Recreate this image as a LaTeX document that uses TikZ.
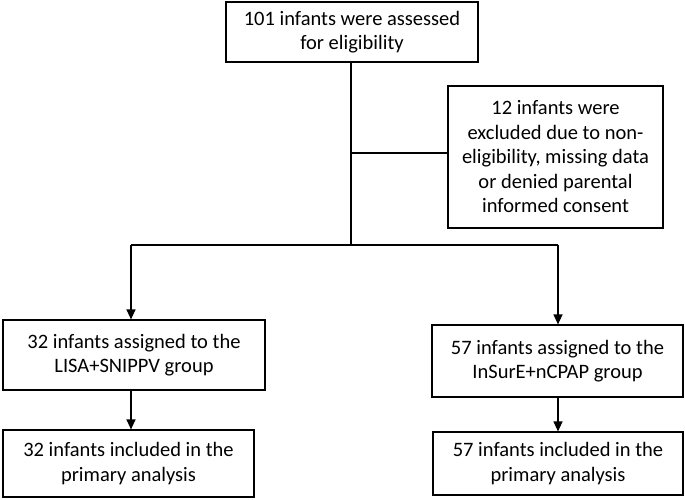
\documentclass[tikz,border=0pt]{standalone}
\usepackage{fontspec}
\setmainfont{Carlito}
\usetikzlibrary{arrows.meta}
\begin{document}
\begin{tikzpicture}[x=1pt,y=-1pt,
  box/.style={draw, line width=1.2pt, align=center, inner sep=0pt,
    font=\fontsize{20.5}{24.5}\selectfont},
  conn/.style={line width=1.2pt},
  arr/.style={line width=1.2pt, -{Triangle[length=10pt,width=9pt]}}]
\useasboundingbox (0,0) rectangle (685,499);
\node[box, minimum width=252pt, minimum height=60pt] (top) at (352,32) {101 infants were assessed\\for eligibility};
\node[box, minimum width=215pt, minimum height=142pt] (excl) at (555.5,157) {12 infants were\\excluded due to non-\\eligibility, missing data\\or denied parental\\informed consent};
\node[box, minimum width=262pt, minimum height=70pt] (l1) at (134,355) {32 infants assigned to the\\LISA+SNIPPV group};
\node[box, minimum width=251pt, minimum height=72pt] (r1) at (557.5,361) {57 infants assigned to the\\InSurE+nCPAP group};
\node[box, minimum width=251pt, minimum height=67pt] (l2) at (128.5,463.5) {32 infants included in the\\primary analysis};
\node[box, minimum width=250pt, minimum height=63pt] (r2) at (558,463.5) {57 infants included in the\\primary analysis};
\coordinate (split) at (351,245);
\coordinate (exj) at (351,153);
\coordinate (bl) at (131,245);
\coordinate (br) at (558,245);
\draw[conn] (top.south -| split) -- (split);
\draw[conn] (exj) -- (exj -| excl.west);
\draw[conn] (bl) -- (br);
\draw[arr] (bl) -- (bl |- l1.north);
\draw[arr] (br) -- (br |- r1.north);
\draw[arr] (l1.south -| bl) -- (bl |- l2.north);
\draw[arr] (r1.south -| br) -- (br |- r2.north);
\end{tikzpicture}
\end{document}
